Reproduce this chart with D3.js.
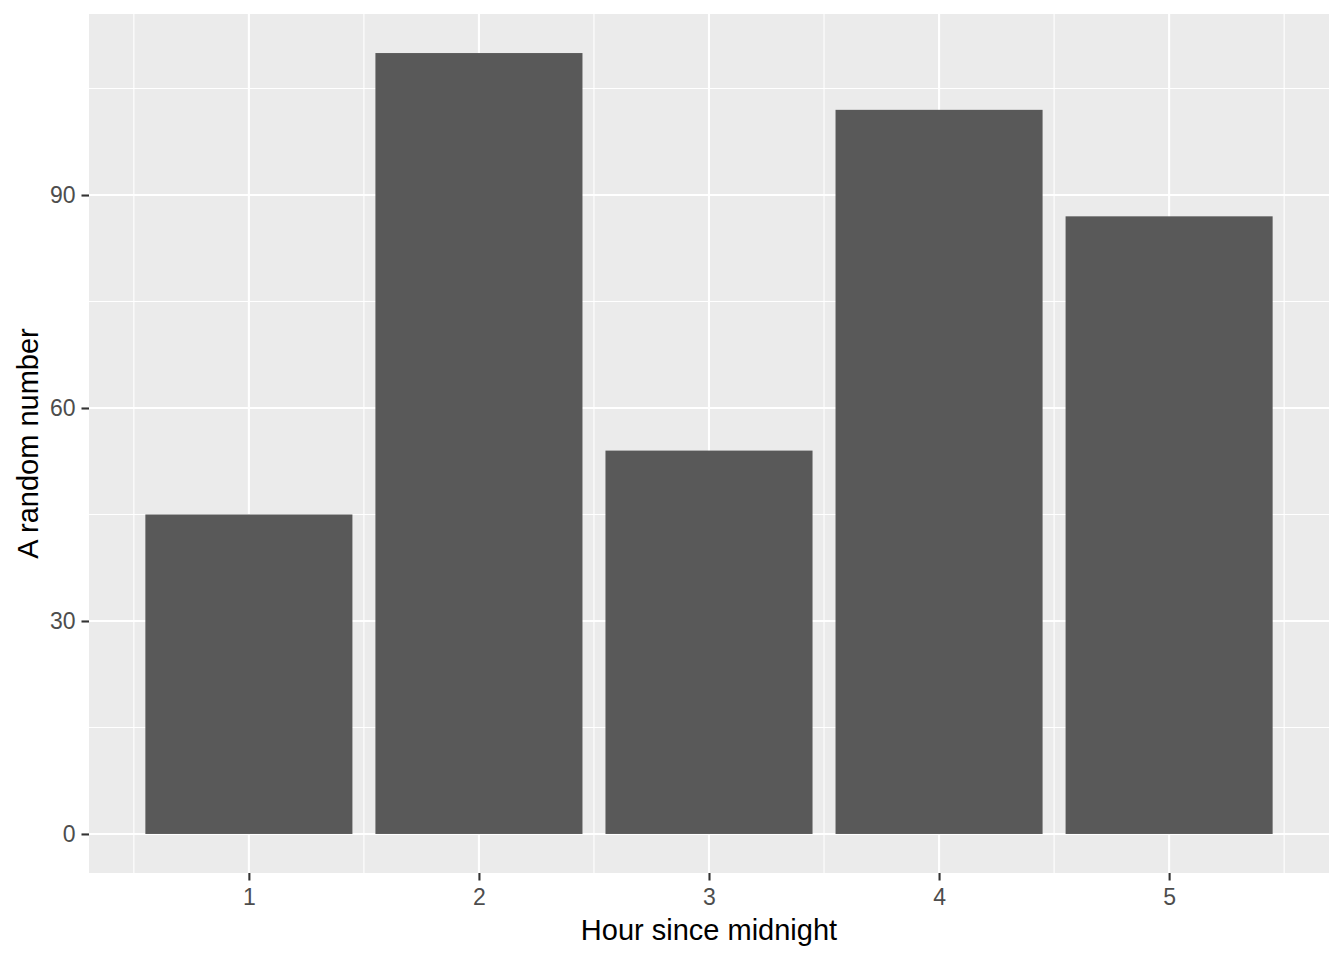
<!DOCTYPE html>
<html>
<head>
<meta charset="utf-8">
<script src="https://cdn.jsdelivr.net/npm/d3@7"></script>
<style>
html,body{margin:0;padding:0;background:#fff;}
svg{display:block;font-family:"Liberation Sans",Arial,sans-serif;}
</style>
</head>
<body>
<svg id="chart" width="1344" height="960"></svg>
<script>
const hours = [1, 2, 3, 4, 5];
const values = [45, 110, 54, 102, 87];
const yTicks = [0, 30, 60, 90];
const yMinor = [15, 45, 75, 105];
const xMinor = [0.5, 1.5, 2.5, 3.5, 4.5, 5.5];
const xLabel = "Hour since midnight";
const yLabel = "A random number";

(function(){
const svg = d3.select("#chart");
const pLeft = 89, pRight = 1329, pTop = 14, pBottom = 873;

const barW = 0.9;
const xMin = 1 - barW/2, xMax = 5 + barW/2;
const xPad = (xMax - xMin) * 0.05;
const x = d3.scaleLinear().domain([xMin - xPad, xMax + xPad]).range([pLeft, pRight]);
const yMaxV = d3.max(values);
const yPad = yMaxV * 0.05;
const y = d3.scaleLinear().domain([-yPad, yMaxV + yPad]).range([pBottom, pTop]);

svg.append("rect").attr("x", pLeft).attr("y", pTop).attr("width", pRight-pLeft).attr("height", pBottom-pTop).attr("fill", "#EBEBEB");

const g = svg.append("g");
g.selectAll(".ymin").data(yMinor).join("line")
  .attr("x1", pLeft).attr("x2", pRight).attr("y1", d=>y(d)).attr("y2", d=>y(d))
  .attr("stroke", "#fff").attr("stroke-width", 1.1);
g.selectAll(".xmin").data(xMinor).join("line")
  .attr("y1", pTop).attr("y2", pBottom).attr("x1", d=>x(d)).attr("x2", d=>x(d))
  .attr("stroke", "#fff").attr("stroke-width", 1.1);
g.selectAll(".ymaj").data(yTicks).join("line")
  .attr("x1", pLeft).attr("x2", pRight).attr("y1", d=>y(d)).attr("y2", d=>y(d))
  .attr("stroke", "#fff").attr("stroke-width", 2.1);
g.selectAll(".xmaj").data(hours).join("line")
  .attr("y1", pTop).attr("y2", pBottom).attr("x1", d=>x(d)).attr("x2", d=>x(d))
  .attr("stroke", "#fff").attr("stroke-width", 2.1);

svg.append("g").selectAll("rect").data(hours.map((h,i)=>({h, v: values[i]}))).join("rect")
  .attr("x", d=>x(d.h - barW/2)).attr("width", d=>x(d.h + barW/2) - x(d.h - barW/2))
  .attr("y", d=>y(d.v)).attr("height", d=>y(0) - y(d.v))
  .attr("fill", "#595959");

const xAxis = svg.append("g").attr("transform", `translate(0,${pBottom})`)
  .call(d3.axisBottom(x).tickValues(hours).tickSize(7.5).tickPadding(8).tickFormat(d3.format("d")));
const yAxis = svg.append("g").attr("transform", `translate(${pLeft},0)`)
  .call(d3.axisLeft(y).tickValues(yTicks).tickSize(7.5).tickPadding(6).tickFormat(d3.format("d")));
[xAxis, yAxis].forEach(a => {
  a.select(".domain").remove();
  a.selectAll(".tick line").attr("stroke", "#333").attr("stroke-width", 2.1);
  a.selectAll(".tick text").attr("fill", "#4D4D4D").style("font-size", "23px").style("font-family", "Liberation Sans, Arial, sans-serif");
});

svg.append("text").attr("x", (pLeft+pRight)/2).attr("y", 940).attr("text-anchor", "middle")
  .attr("fill", "#000").style("font-size", "29px").text(xLabel);
svg.append("text").attr("transform", `translate(38,${(pTop+pBottom)/2}) rotate(-90)`).attr("text-anchor", "middle")
  .attr("fill", "#000").style("font-size", "29px").text(yLabel);
})();
</script>
</body>
</html>
